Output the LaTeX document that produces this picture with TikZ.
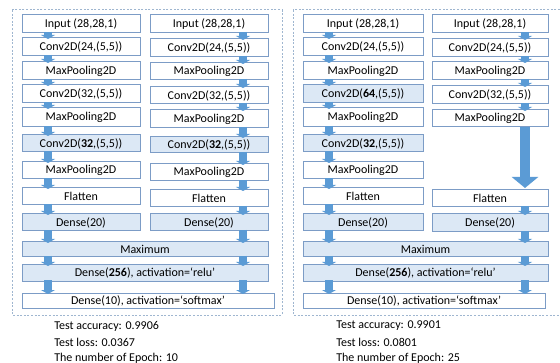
\documentclass[tikz,border=0pt]{standalone}
\usepackage{fontspec}
\setmainfont{Carlito}
\usetikzlibrary{arrows.meta}

\definecolor{boxline}{HTML}{7C9CC6}
\definecolor{lightfill}{HTML}{DCE8F5}
\definecolor{arrowblue}{HTML}{5B9BD5}
\definecolor{dashcol}{HTML}{9FB6D0}

% \blk{name}{x1}{y1}{x2}{y2}{style}{label}: a box given by its corners (in px)
\newcommand\blk[7]{%
  \node[#6, minimum width={(#4-#2)*0.75pt}, minimum height={(#5-#3)*0.75pt}]
    (#1) at ({(#2+#4)/2},{(#3+#5)/2}) {#7};}

\begin{document}
\begin{tikzpicture}[x=0.75pt, y=-0.75pt,
  every node/.style={font=\fontsize{9}{10.8}\selectfont, text=black},
  plain/.style={draw=boxline, line width=0.75pt, fill=white, inner sep=0pt, outer sep=0pt},
  tinted/.style={plain, fill=lightfill},
  flow/.style={draw=arrowblue, line width=6pt,
    -{Triangle[width=10.5pt, length=3pt]}, shorten <=-0.75pt, shorten >=-0.75pt},
  bigflow/.style={draw=arrowblue, line width=7.5pt,
    -{Triangle[width=19.5pt, length=8.25pt]}, shorten >=1.5pt},
  panel/.style={draw=dashcol, line width=0.75pt, dash pattern=on 1.5pt off 1.2pt},
  note/.style={anchor=west, inner sep=0pt}]

\useasboundingbox (0,0) rectangle (560,363);

% dashed outlines of the two models
\draw[panel] (12,10) rectangle (282,315);
\draw[panel] (293,10) rectangle (566,315);

% x positions of the arrow columns
\coordinate (xa) at (48,0);
\coordinate (xb) at (243,0);
\coordinate (xc) at (329,0);
\coordinate (xd) at (525,0);

% ---------- left model, branch 1 ----------
\blk{a1}{22}{15}{140}{33}{plain}{Input (28,28,1)}
\blk{a2}{22}{38}{140}{56}{plain}{Conv2D(24,(5,5))}
\blk{a3}{22}{62}{140}{80}{plain}{MaxPooling2D}
\blk{a4}{22}{85}{140}{103}{plain}{Conv2D(32,(5,5))}
\blk{a5}{22}{108}{140}{127}{plain}{MaxPooling2D}
\blk{a6}{22}{135}{140}{152}{tinted}{Conv2D(\textbf{32},(5,5))}
\blk{a7}{22}{162}{140}{179}{plain}{MaxPooling2D}
\blk{a8}{22}{188}{140}{205}{plain}{Flatten}
\blk{a9}{22}{214}{140}{231}{tinted}{Dense(20)}

% ---------- left model, branch 2 ----------
\blk{b1}{150}{15}{268}{33}{plain}{Input (28,28,1)}
\blk{b2}{150}{39}{268}{57}{plain}{Conv2D(24,(5,5))}
\blk{b3}{150}{63}{268}{80}{plain}{MaxPooling2D}
\blk{b4}{150}{87}{268}{104}{plain}{Conv2D(32,(5,5))}
\blk{b5}{150}{110}{268}{128}{plain}{MaxPooling2D}
\blk{b6}{150}{137}{268}{153}{tinted}{Conv2D(\textbf{32},(5,5))}
\blk{b7}{150}{164}{268}{181}{plain}{MaxPooling2D}
\blk{b8}{150}{190}{268}{207}{plain}{Flatten}
\blk{b9}{150}{214}{268}{231}{tinted}{Dense(20)}

% ---------- left model, merged head ----------
\blk{lmax}{22}{242}{268}{257}{tinted}{Maximum}
\blk{ld256}{22}{265}{268}{281}{tinted}{Dense(\textbf{256}), activation=‘relu’}
\blk{ld10}{22}{293}{274}{308}{plain}{Dense(10), activation=‘softmax’}

% ---------- right model, branch 1 ----------
\blk{c1}{303}{15}{423}{33}{plain}{Input (28,28,1)}
\blk{c2}{303}{38}{423}{56}{plain}{Conv2D(24,(5,5))}
\blk{c3}{303}{62}{423}{80}{plain}{MaxPooling2D}
\blk{c4}{303}{85}{423}{103}{tinted}{Conv2D(\textbf{64},(5,5))}
\blk{c5}{303}{108}{423}{127}{plain}{MaxPooling2D}
\blk{c6}{303}{135}{423}{152}{tinted}{Conv2D(\textbf{32},(5,5))}
\blk{c7}{303}{162}{423}{179}{plain}{MaxPooling2D}
\blk{c8}{303}{188}{423}{205}{plain}{Flatten}
\blk{c9}{303}{214}{423}{231}{tinted}{Dense(20)}

% ---------- right model, branch 2 ----------
\blk{d1}{432}{15}{548}{33}{plain}{Input (28,28,1)}
\blk{d2}{432}{39}{548}{57}{plain}{Conv2D(24,(5,5))}
\blk{d3}{432}{62}{548}{80}{plain}{MaxPooling2D}
\blk{d4}{432}{86}{548}{104}{plain}{Conv2D(32,(5,5))}
\blk{d5}{432}{110}{548}{127}{plain}{MaxPooling2D}
\blk{d8}{432}{190}{548}{207}{plain}{Flatten}
\blk{d9}{432}{214}{548}{232}{tinted}{Dense(20)}

% ---------- right model, merged head ----------
\blk{rmax}{303}{242}{548}{257}{tinted}{Maximum}
\blk{rd256}{303}{265}{548}{281}{tinted}{Dense(\textbf{256}), activation=‘relu’}
\blk{rd10}{303}{293}{545}{308}{plain}{Dense(10), activation=‘softmax’}

% ---------- arrows ----------
\foreach \u/\v in {a1/a2,a2/a3,a3/a4,a4/a5,a5/a6,a6/a7,a7/a8,a8/a9,a9/lmax,lmax/ld256,ld256/ld10}
  \draw[flow] (xa |- \u.south) -- (xa |- \v.north);
\foreach \u/\v in {b1/b2,b2/b3,b3/b4,b4/b5,b5/b6,b6/b7,b7/b8,b8/b9,b9/lmax,lmax/ld256,ld256/ld10}
  \draw[flow] (xb |- \u.south) -- (xb |- \v.north);
\foreach \u/\v in {c1/c2,c2/c3,c3/c4,c4/c5,c5/c6,c6/c7,c7/c8,c8/c9,c9/rmax,rmax/rd256,rd256/rd10}
  \draw[flow] (xc |- \u.south) -- (xc |- \v.north);
\foreach \u/\v in {d1/d2,d2/d3,d3/d4,d4/d5,d8/d9,d9/rmax,rmax/rd256,rd256/rd10}
  \draw[flow] (xd |- \u.south) -- (xd |- \v.north);
\draw[bigflow] (xd |- d5.south) -- (xd |- d8.north);

% ---------- results ----------
\node[note] (lres1) at (54,326) {Test accuracy: 0.9906};
\node[note] (lres2) at (54,342) {Test loss: 0.0367};
\node[note] (lres3) at (54,358) {The number of Epoch: 10};
\node[note] (rres1) at (336,326) {Test accuracy: 0.9901};
\node[note] (rres2) at (336,342) {Test loss: 0.0801};
\node[note] (rres3) at (336,358) {The number of Epoch: 25};

\end{tikzpicture}
\end{document}
